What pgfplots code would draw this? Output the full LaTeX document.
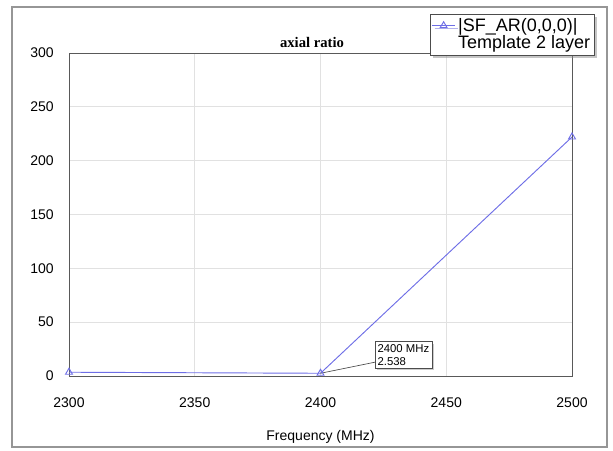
\documentclass[border=0pt]{standalone}
\usepackage{pgfplots}
\pgfplotsset{compat=1.18}
\usetikzlibrary{shadows}
\usepackage{fontspec}
\setmainfont{Liberation Sans}
\newfontfamily\serifbold{Liberation Serif}
\definecolor{lineblue}{RGB}{110,110,230}
\definecolor{gridgray}{RGB}{225,225,225}
\definecolor{framegray}{RGB}{150,150,150}
\begin{document}
\begin{tikzpicture}
\path[use as bounding box] (0,0) rectangle (459.75pt,337.5pt);
\draw[framegray, line width=1.5pt] (9pt,2pt) rectangle (455pt,332.25pt);
\begin{axis}[
  at={(51.75pt,55.5pt)}, anchor=south west,
  scale only axis, width=377.25pt, height=242.25pt,
  xmin=2300, xmax=2500, ymin=0, ymax=300,
  xtick={2300,2350,2400,2450,2500},
  ytick={0,50,100,150,200,250,300},
  major tick length=0pt,
  grid=major,
  major grid style={gridgray, line width=0.6pt},
  axis line style={draw=black!65, line width=0.6pt},
  /pgf/number format/assume math mode=true,
  /pgf/number format/1000 sep={},
  tick label style={font=\fontsize{10.5}{12}\selectfont},
  xticklabel style={yshift=-13pt},
  yticklabel style={xshift=-8pt},
  xlabel={Frequency (MHz)},
  xlabel style={font=\fontsize{10.5}{12}\selectfont, yshift=-10pt},
  legend style={at={(0.718,1.121)}, anchor=north west,
    draw=black!70, fill=white, font=\fontsize{13.5}{15}\selectfont,
    drop shadow={shadow xshift=2pt, shadow yshift=-2pt, fill=black!45},
    inner sep=1pt, row sep=-2pt},
  legend cell align=left,
  clip=false,
]
\addplot[lineblue, line width=0.7pt, mark=triangle, mark size=3pt,
  mark options={solid, fill=white}]
  coordinates {(2300,3.5) (2400,2.538) (2500,222)};
\addlegendentry{|SF\_AR(0,0,0)|}
\addlegendimage{empty legend}
\addlegendentry{Template 2 layer}
\draw[black!70, line width=0.5pt] (axis cs:2400,2.538) -- (axis cs:2422,13);
\node[draw=black!70, fill=white, line width=0.5pt, inner sep=2pt,
  align=left, font=\fontsize{8.5}{10}\selectfont,
  drop shadow={shadow xshift=1.5pt, shadow yshift=-1.5pt, fill=black!40},
  anchor=west] at (axis cs:2421.5,19.5) {2400 MHz\\2.538};
\end{axis}
\node[font=\serifbold\bfseries\fontsize{11}{12}\selectfont] at (234pt,306pt) {axial ratio};
\end{tikzpicture}
\end{document}
